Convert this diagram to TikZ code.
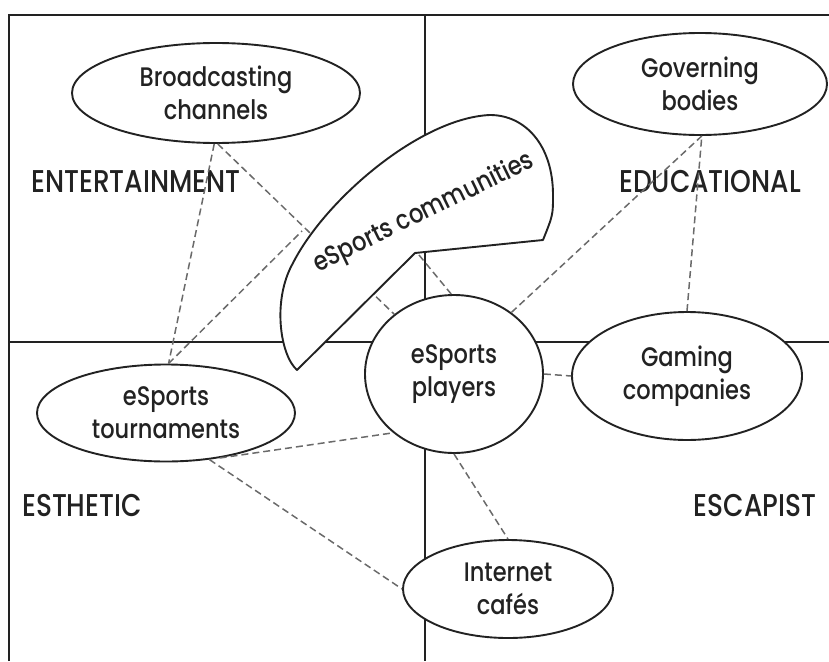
\documentclass[tikz,border=0pt]{standalone}
\usepackage{fontspec}
\setmainfont{Poppins Medium}[FakeStretch=0.84]
\usetikzlibrary{shapes.geometric}
\newcommand{\bubblefont}{\fontsize{26.8pt}{33pt}\selectfont}
\newcommand{\zonefont}{\fontsize{31.5pt}{34pt}\selectfont}
\definecolor{ink}{HTML}{222222}
\definecolor{linkgray}{HTML}{6A6A6A}
\begin{document}
\begin{tikzpicture}[x=1pt,y=-1pt,
  frameline/.style={draw=ink, line width=2.4pt},
  bubble/.style={ellipse, draw=ink, line width=1.9pt, fill=white,
    inner sep=0pt, align=center, text=ink, font=\bubblefont},
  link/.style={draw=linkgray, line width=1.5pt, dash pattern=on 7pt off 4pt},
  zone/.style={inner sep=0pt, text=ink, font=\zonefont},
  blob/.style={draw=ink, line width=1.9pt, fill=white, line join=round}
]
\useasboundingbox (0,0) rectangle (829,661);

% quadrant frame
\draw[frameline] (9,661) -- (9,15) -- (829,15);
\draw[frameline] (425,15) -- (425,661);
\draw[frameline] (9,342) -- (829,342);

% quadrant names
\node[zone] (ent) at (136,182) {ENTERTAINMENT};
\node[zone] (edu) at (710,182) {EDUCATIONAL};
\node[zone] (est) at (82,506) {ESTHETIC};
\node[zone] (esc) at (755,506) {ESCAPIST};

% stakeholder bubbles, filled so they hide the frame lines
\node[bubble, minimum width=288pt, minimum height=100pt] (bc) at (216,93)  {Broadcasting\\channels};
\node[bubble, minimum width=254pt, minimum height=102pt] (gb) at (700,84)  {Governing\\bodies};
\node[bubble, minimum width=258pt, minimum height=97pt]  (tn) at (166,413) {eSports\\tournaments};
\node[bubble, minimum width=178pt, minimum height=158pt] (pl) at (454,374) {eSports\\players};
\node[bubble, minimum width=230pt, minimum height=128pt] (gc) at (687,376) {Gaming\\companies};
\node[bubble, minimum width=210pt, minimum height=98pt]  (ic) at (508,589) {Internet\\caf\'es};

% attachment points on the communities blob
\coordinate (cmw) at (302,231);
\coordinate (cms) at (419,255);

% dashed relations
\draw[link] (bc.-92) -- (tn.87);
\draw[link] (bc.-88) -- (pl.135);
\draw[link] (tn.87) -- (cmw);
\draw[link] (cms) -- (pl.92);
\draw[link] (pl.47) -- (gb.-88);
\draw[link] (gc.north) -- (gb.-88);
\draw[link] (pl.east) -- (gc.west);
\draw[link] (pl.south) -- (ic.north);
\draw[link] (tn.-40) -- (pl.224);
\draw[link] (tn.-47) -- (ic.west);

% eSports communities blob, drawn over the frame and the links behind it
\draw[blob] (297,370) .. controls (280,355) and (272,300) .. (293,263)
  .. controls (325,200) and (420,118) .. (490,115)
  .. controls (525,115) and (553,145) .. (553,195)
  .. controls (553,215) .. (543,240)
  -- (415,253) -- cycle;
\node[inner sep=0pt, text=ink, font=\bubblefont, rotate=26] (cm) at (424,213) {eSports communities};
\end{tikzpicture}
\end{document}
